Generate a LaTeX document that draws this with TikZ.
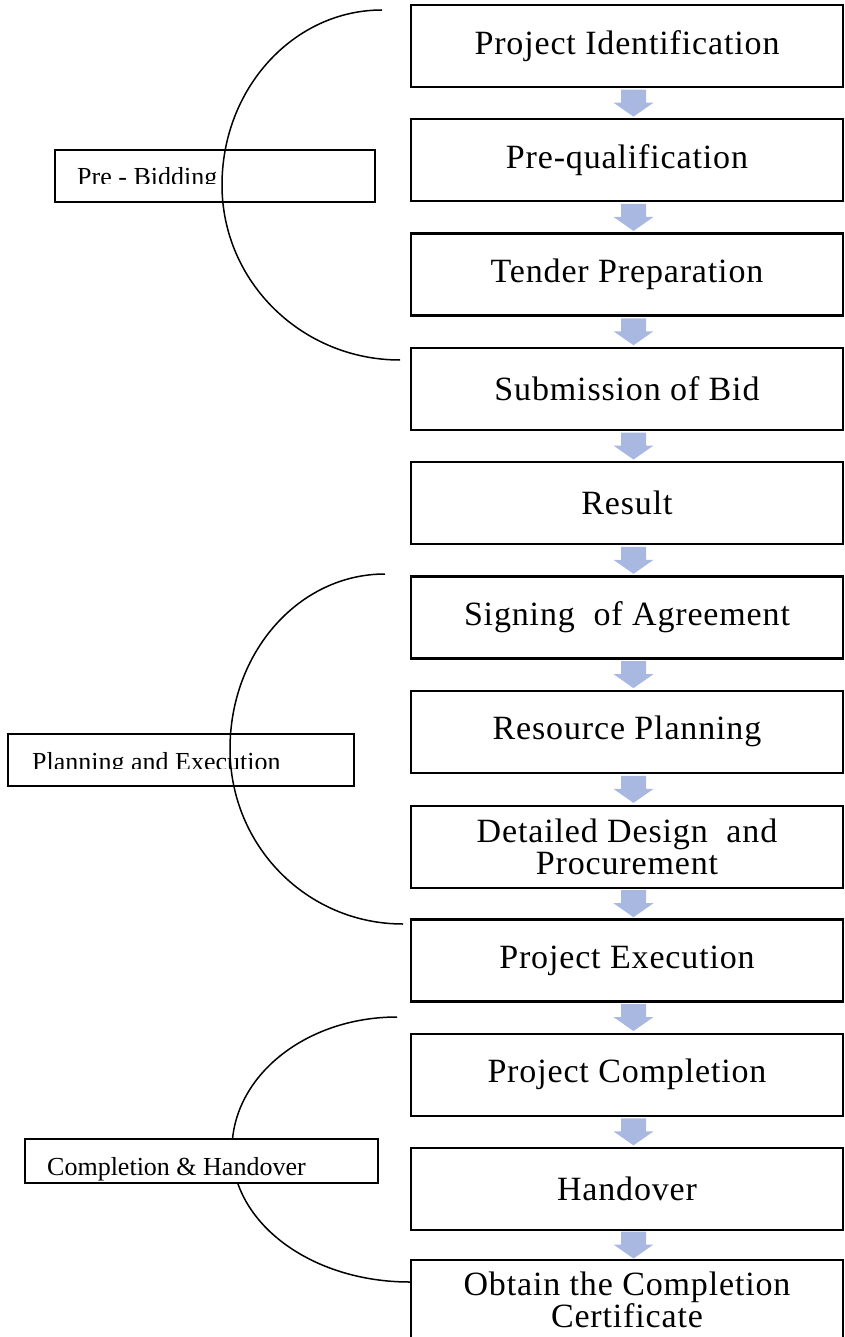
\documentclass[tikz,border=0pt]{standalone}
\usepackage{fontspec}
\setmainfont{Liberation Serif}
\newfontfamily\stagefont[LetterSpace=2.5]{Liberation Serif}
\usetikzlibrary{calc}
\definecolor{arrowblue}{RGB}{168,184,224}

\begin{document}
\begin{tikzpicture}
	 [x=1pt,y=-1pt,
	  stage/.style={draw,line width=2.4pt,minimum width=432pt,minimum height=82pt,inner sep=0pt,align=center,font=\stagefont\fontsize{34}{32}\selectfont},
	  tagbox/.style={draw,line width=1.3pt,minimum height=52pt,inner sep=0pt},
	  tag/.style={anchor=base west,inner sep=0pt,font=\fontsize{26}{28}\selectfont},
	  brace/.style={line width=1.5pt},
	  blockarrow/.style={fill=arrowblue}]
	\useasboundingbox (0,0) rectangle (844,1337);

	  \node[stage] (s1) at (627,46) {Project Identification};
	  \node[stage] (s2) at (627,160.3) {Pre-qualification};
	  \node[stage] (s3) at (627,274.6) {Tender Preparation};
	  \node[stage] (s4) at (627,388.9) {Submission of Bid};
	  \node[stage] (s5) at (627,503.2) {Result};
	  \node[stage] (s6) at (627,617.5) {Signing\ \ of Agreement};
	  \node[stage] (s7) at (627,731.8) {Resource Planning};
	  \node[stage] (s8) at (627,847) {Detailed Design\ \ and\\Procurement};
	  \node[stage] (s9) at (627,960.4) {Project Execution};
	  \node[stage] (s10) at (627,1074.7) {Project Completion};
	  \node[stage] (s11) at (627,1189) {Handover};
	  \node[stage,minimum height=80pt] (s12) at (627,1300) {Obtain the Completion\\Certificate};

	\foreach \from/\to in {s1/s2,s2/s3,s3/s4,s4/s5,s5/s6,s6/s7,s7/s8,s8/s9,s9/s10,s10/s11,s11/s12}
	{
	  \coordinate (m\from) at ($(\from.south)!.5!(\to.north)+(6.5,0)$);
	  \fill[blockarrow] ($(m\from)+(-12.5,-13.5)$) -- ++(25,0) -- ++(0,13) -- ++(7.5,0)
	    -- ++(-20,14) -- ++(-20,-14) -- ++(7.5,0) -- cycle;
	}

	% phase labels
	\node[tagbox,minimum width=320pt] (l1) at (215,176) {};
	\begin{scope}
	  \clip (55,150) rectangle (375,183.5);
	  \node[tag] (t1) at (77,186) {Pre - Bidding};
	\end{scope}

	\node[tagbox,minimum width=346pt] (l2) at (181,760) {};
	\begin{scope}
	  \clip (8,734) rectangle (354,768.5);
	  \node[tag] (t2) at (32,770) {Planning and Execution};
	\end{scope}

	% brackets
	\coordinate (b1top) at (382,10);
	\coordinate (b1bot) at (400,360);
	\coordinate (b2top) at (385,574);
	\coordinate (b2bot) at (403,924);
	\coordinate (b3top) at (397,1017);
	\coordinate (b3bot) at (410,1282);

	\draw[brace] (b1top) .. controls (294,10) and (222,88) .. (222,185)
	  .. controls (222,282) and (302,360) .. (b1bot);
	\draw[brace] (b2top) .. controls (299,574) and (230,652) .. (230,749)
	  .. controls (230,846) and (307,924) .. (b2bot);
	\draw[brace] (b3top) .. controls (306,1017) and (232,1076) .. (232,1149.5)
	  .. controls (232,1223) and (311,1282) .. (b3bot);

	\node[tagbox,fill=white,minimum width=353pt,minimum height=44pt] (l3) at (201.5,1161) {};
	\node[tag] (t3) at (47,1175) {Completion \& Handover};

\end{tikzpicture}
\end{document}
